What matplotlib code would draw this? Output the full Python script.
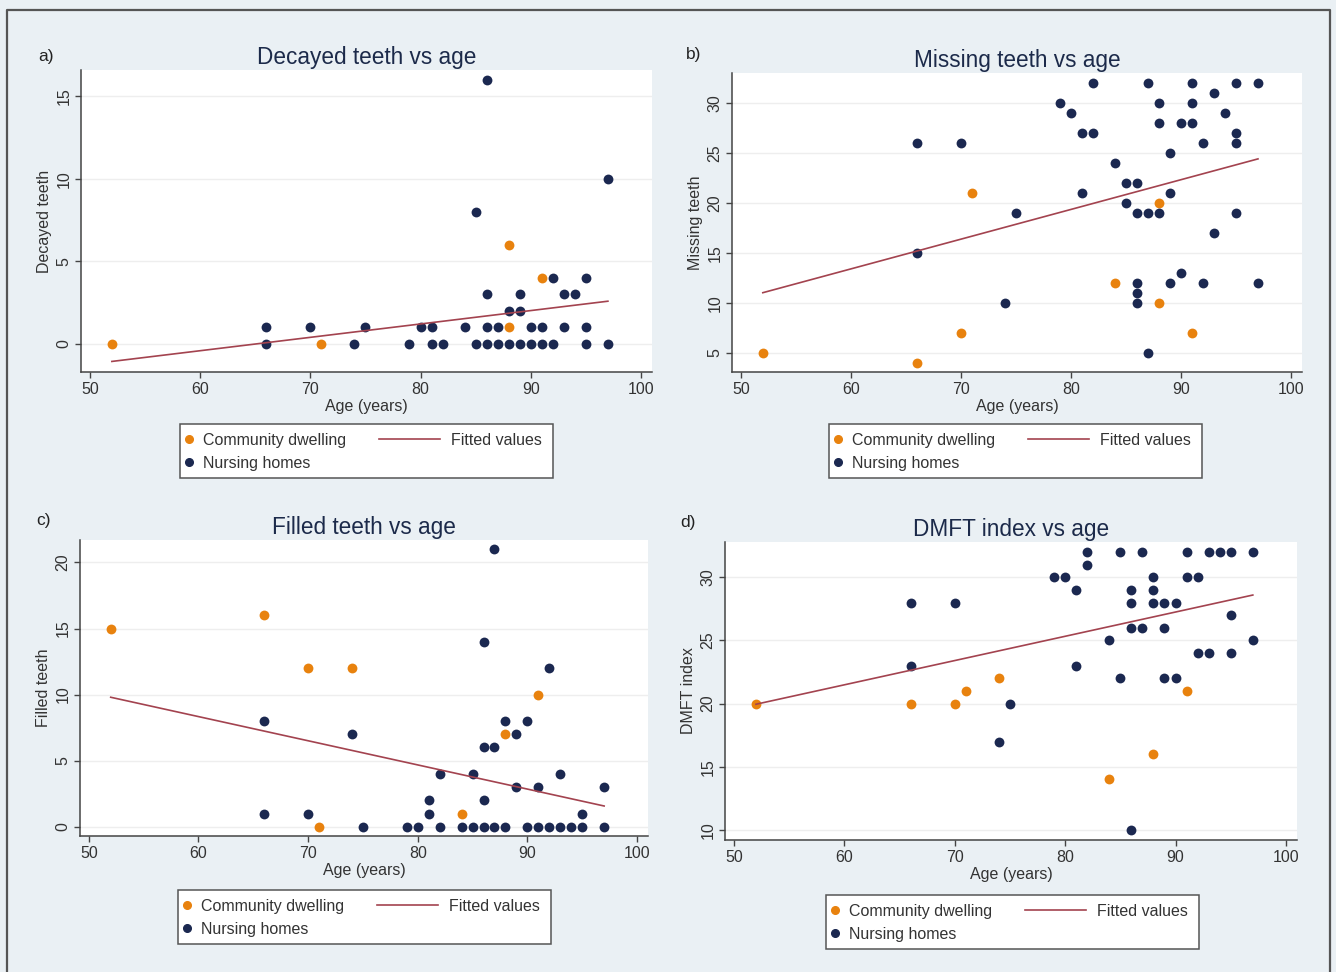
import matplotlib
matplotlib.use("Agg")
import matplotlib.pyplot as plt
from matplotlib.lines import Line2D
from matplotlib.patches import Rectangle

plt.rcParams['font.family'] = ['Liberation Sans', 'DejaVu Sans']

# ---- data ----
# a) decayed teeth
comm_age_a = [52, 71, 88, 91, 88]
comm_val_a = [0, 0, 6, 4, 1]
nurs_age_a = [86, 97, 85, 92, 95, 86, 89, 93, 94, 88, 89,
              66, 70, 75, 80, 81, 84, 86, 87, 90, 91, 93, 95,
              66, 74, 79, 81, 82, 85, 86, 87, 88, 89, 90, 91, 92, 95, 97]
nurs_val_a = [16, 10, 8, 4, 4, 3, 3, 3, 3, 2, 2,
              1, 1, 1, 1, 1, 1, 1, 1, 1, 1, 1, 1,
              0, 0, 0, 0, 0, 0, 0, 0, 0, 0, 0, 0, 0, 0, 0]
fit_a = [-1.06, 2.59]

# b) missing teeth
comm_age_b = [52, 66, 71, 88, 84, 88, 70, 91]
comm_val_b = [5, 4, 21, 20, 12, 10, 7, 7]
nurs_age_b = [82, 87, 91, 95, 97, 93, 79, 88, 91, 80, 94, 88, 90, 91,
              81, 82, 95, 66, 70, 92, 95, 89, 84, 85, 86, 81, 89, 85,
              75, 86, 87, 88, 95, 93, 66, 90, 86, 89, 92, 97, 86, 74, 86, 87]
nurs_val_b = [32, 32, 32, 32, 32, 31, 30, 30, 30, 29, 29, 28, 28, 28,
              27, 27, 27, 26, 26, 26, 26, 25, 24, 22, 22, 21, 21, 20,
              19, 19, 19, 19, 19, 17, 15, 13, 12, 12, 12, 12, 11, 10, 10, 5]
fit_b = [11.0, 24.4]

# c) filled teeth
comm_age_c = [52, 66, 70, 74, 91, 88, 84, 71]
comm_val_c = [15, 16, 12, 12, 10, 7, 1, 0]
nurs_age_c = [87, 86, 92, 66, 88, 90, 74, 89, 86, 87, 82, 85, 93, 89, 91, 97,
              81, 86, 66, 70, 81, 95,
              75, 79, 80, 82, 84, 85, 86, 87, 88, 90, 91, 92, 93, 94, 95, 97]
nurs_val_c = [21, 14, 12, 8, 8, 8, 7, 7, 6, 6, 4, 4, 4, 3, 3, 3,
              2, 2, 1, 1, 1, 1,
              0, 0, 0, 0, 0, 0, 0, 0, 0, 0, 0, 0, 0, 0, 0, 0]
fit_c = [9.8, 1.57]

# d) DMFT index
comm_age_d = [52, 66, 70, 71, 74, 91, 88, 84]
comm_val_d = [20, 20, 20, 21, 22, 21, 16, 14]
nurs_age_d = [82, 85, 87, 91, 93, 94, 95, 97, 82, 79, 80, 88, 91, 92,
              81, 86, 88, 66, 70, 86, 88, 89, 90, 95, 86, 87, 89,
              84, 97, 92, 93, 95, 66, 81, 85, 89, 90, 75, 74, 86]
nurs_val_d = [32, 32, 32, 32, 32, 32, 32, 32, 31, 30, 30, 30, 30, 30,
              29, 29, 29, 28, 28, 28, 28, 28, 28, 27, 26, 26, 26,
              25, 25, 24, 24, 24, 23, 23, 22, 22, 22, 20, 17, 10]
fit_d = [19.95, 28.6]

fit_ages = [52, 97]

panels = [
    ("a)", "Decayed teeth vs age", "Decayed teeth", comm_age_a, comm_val_a,
     nurs_age_a, nurs_val_a, fit_a, [0, 5, 10, 15], (-1.7, 16.6)),
    ("b)", "Missing teeth vs age", "Missing teeth", comm_age_b, comm_val_b,
     nurs_age_b, nurs_val_b, fit_b, [5, 10, 15, 20, 25, 30], (3.06, 33)),
    ("c)", "Filled teeth vs age", "Filled teeth", comm_age_c, comm_val_c,
     nurs_age_c, nurs_val_c, fit_c, [0, 5, 10, 15, 20], (-0.7, 21.7)),
    ("d)", "DMFT index vs age", "DMFT index", comm_age_d, comm_val_d,
     nurs_age_d, nurs_val_d, fit_d, [10, 15, 20, 25, 30], (9.2, 32.8)),
]

# ---- layout (pixels) ----
W, H = 1336, 972
bg = '#eaf0f4'
orange = '#e8820e'
navy = '#1b2850'
fitcol = '#a3434f'
txt = '#333333'

# left, top, right, bottom of each plot region
boxes = [(81, 70, 652, 372), (732, 73, 1302, 372),
         (80, 540, 648, 836), (725, 542, 1297, 840)]
leg_pos = [(180, 424), (829, 424), (178, 890), (826, 895)]
letter_pos = [(38, 56), (686, 54), (36, 521), (680, 522)]


def fx(x):
    return x / W


def fy(y):
    return 1 - y / H


fig = plt.figure(figsize=(W / 100, H / 100), dpi=100, facecolor=bg)

for i, (letter, title, ylab, ca, cv, na, nv, fit, yticks, ylim) in enumerate(panels):
    l, t, r, b = boxes[i]
    ax = fig.add_axes([fx(l), fy(b), (r - l) / W, (b - t) / H])
    ax.set_facecolor('white')
    ax.scatter(ca, cv, s=50, color=orange, zorder=3, linewidths=0)
    ax.scatter(na, nv, s=50, color=navy, zorder=3, linewidths=0)
    ax.plot(fit_ages, fit, color=fitcol, lw=1.2, zorder=4)

    ax.set_xlim(49.2, 101.0)
    ax.set_ylim(*ylim)
    ax.set_xticks([50, 60, 70, 80, 90, 100])
    ax.set_yticks(yticks)
    ax.grid(axis='y', color='#eeeeee', lw=1)
    ax.set_axisbelow(True)
    for s in ['top', 'right']:
        ax.spines[s].set_visible(False)
    for s in ['left', 'bottom']:
        ax.spines[s].set_color('#444444')
        ax.spines[s].set_linewidth(1.1)
    ax.tick_params(direction='out', length=4, width=1, color='#444444',
                   labelsize=11.5, labelcolor=txt, pad=3)
    plt.setp(ax.get_yticklabels(), rotation=90, va='center')

    ax.set_title(title, fontsize=16.3, color='#1c2a4a', pad=4)
    ax.set_xlabel("Age (years)", fontsize=11.5, color=txt, labelpad=2)
    ax.set_ylabel(ylab, fontsize=11.5, color=txt)
    ax.yaxis.set_label_coords(-29 / (r - l), 0.5)

    lx, ly = letter_pos[i]
    fig.text(fx(lx), fy(ly), letter, fontsize=12.5, color='#222222', va='center')

    # legend: frame plus two frameless legends inside
    bx, by = leg_pos[i]
    fig.add_artist(Rectangle((fx(bx), fy(by + 54)), 373 / W, 54 / H,
                             transform=fig.transFigure, facecolor='white',
                             edgecolor='#555555', lw=1.1, zorder=2))
    h1 = [Line2D([], [], marker='o', ls='', color=orange, markersize=5.5),
          Line2D([], [], marker='o', ls='', color=navy, markersize=5.5)]
    fig.legend(h1, ["Community dwelling", "Nursing homes"], loc='upper left',
               bbox_to_anchor=(fx(bx + 1), fy(by + 9)), frameon=False,
               borderpad=0, borderaxespad=0, handlelength=1.0,
               handletextpad=0.4, labelspacing=0.5, fontsize=11.5,
               labelcolor=txt)
    h2 = [Line2D([], [], color=fitcol, lw=1.2)]
    fig.legend(h2, ["Fitted values"], loc='upper left',
               bbox_to_anchor=(fx(bx + 199), fy(by + 9)), frameon=False,
               borderpad=0, borderaxespad=0, handlelength=3.8,
               handletextpad=0.7, fontsize=11.5, labelcolor=txt)

# outer frame
fig.add_artist(Line2D([fx(7), fx(7), fx(1330), fx(1330)],
                      [fy(972), fy(10), fy(10), fy(972)],
                      transform=fig.transFigure, color='#555555', lw=1.6))

fig.savefig("out.png", dpi=100, facecolor=bg)
